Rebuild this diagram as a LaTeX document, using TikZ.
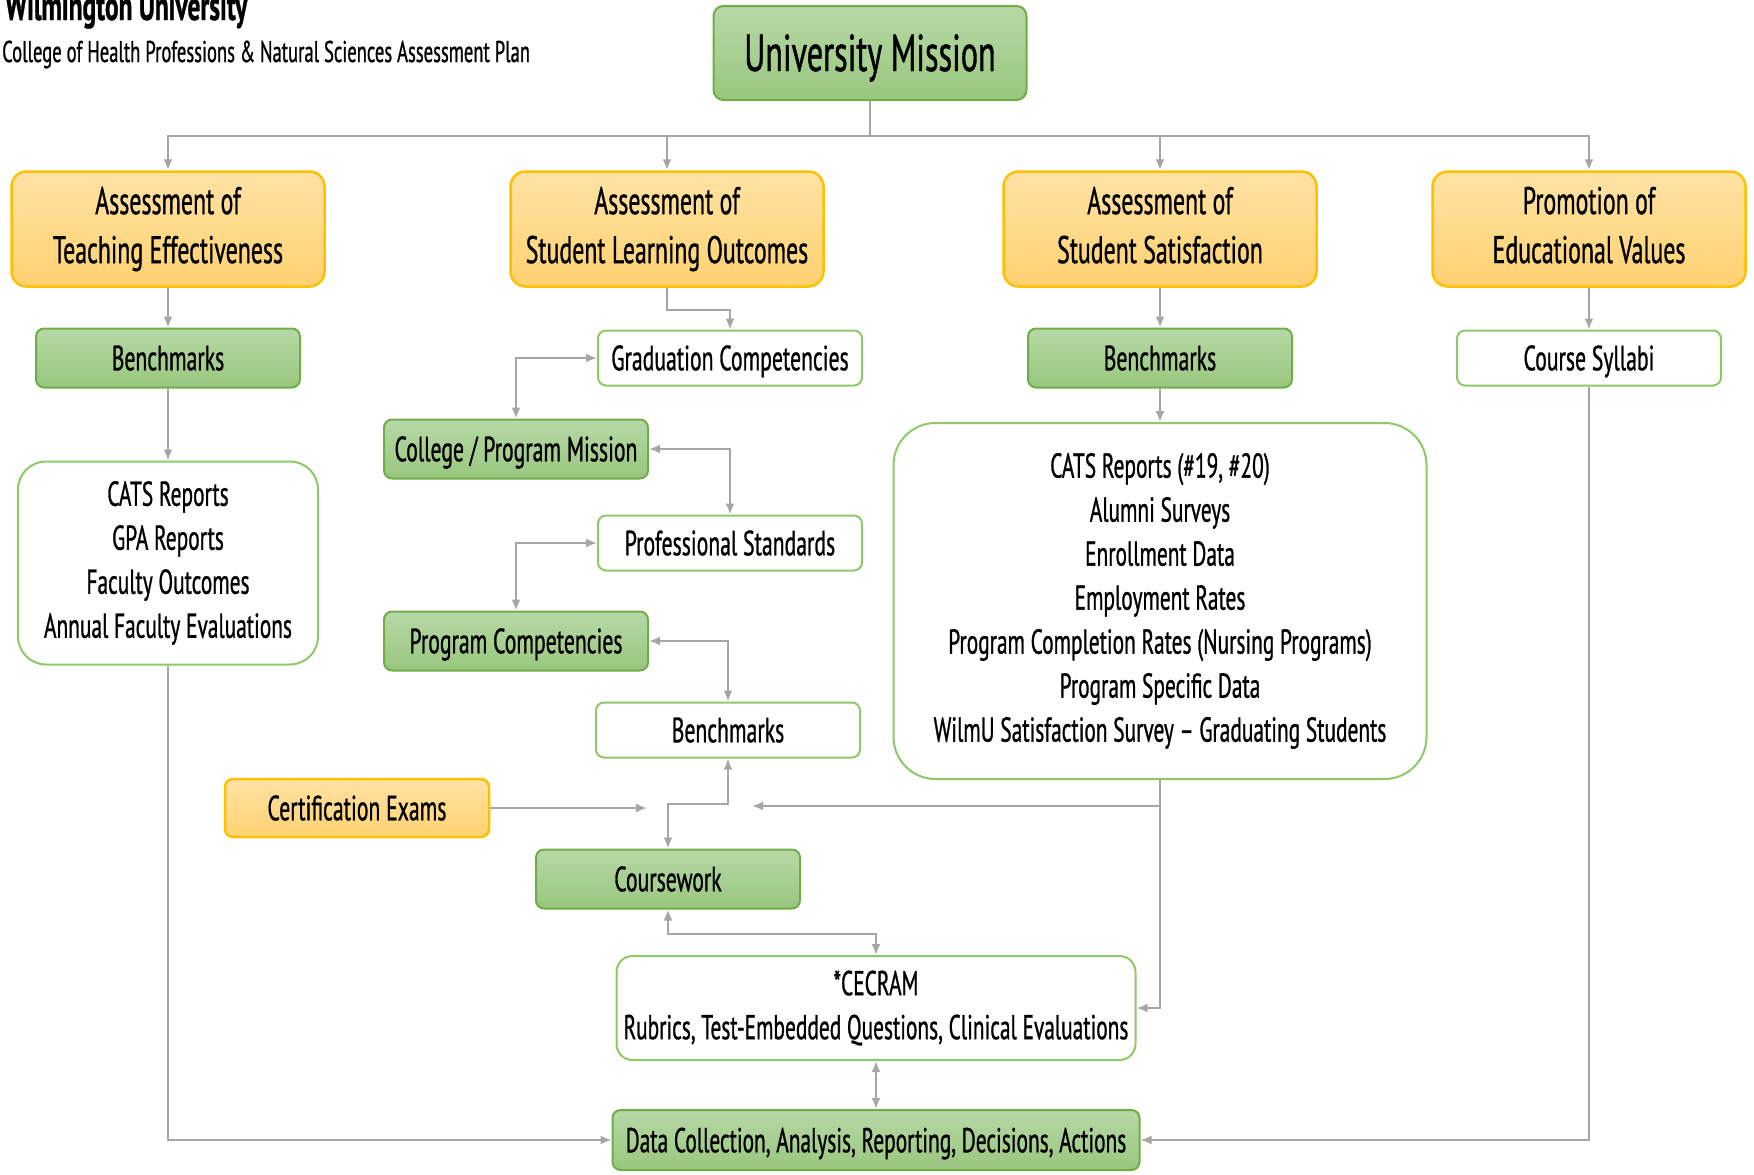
\documentclass[tikz,border=0pt]{standalone}
\usepackage{fontspec}
\setmainfont{PT Sans}[FakeStretch=0.62, FakeBold=0.8]
\usetikzlibrary{shapes.geometric, arrows.meta}
\definecolor{wilmu_yellow_top}{RGB}{255, 226, 165}
\definecolor{wilmu_yellow_bottom}{RGB}{255, 210, 112}
\definecolor{wilmu_gold}{RGB}{255, 192, 0}
\definecolor{wilmu_green_top}{RGB}{183, 216, 166}
\definecolor{wilmu_green_bottom}{RGB}{152, 199, 126}
\definecolor{wilmu_green_edge}{RGB}{112, 173, 71}
\definecolor{wilmu_light_edge}{RGB}{143, 200, 105}
\definecolor{wilmu_arrow}{RGB}{166, 166, 166}
\newcommand{\titlefont}{\fontsize{41}{48}\bfseries\selectfont}
\newcommand{\subtitlefont}{\fontsize{30}{36}\selectfont}
\newcommand{\missionfont}{\fontsize{52}{60}\selectfont}
\newcommand{\headfont}{\fontsize{38.5}{49}\selectfont}
\newcommand{\boxfont}{\fontsize{35}{44}\selectfont}
\newcommand{\listfont}{\fontsize{34.5}{44}\selectfont}
\tikzstyle{head} = [rectangle, rounded corners=15pt, minimum width=313pt, minimum height=115pt, inner sep=0pt, text centered, draw=wilmu_gold, line width=2.5pt, top color=wilmu_yellow_top, bottom color=wilmu_yellow_bottom, font=\headfont, execute at end node={\vphantom{g}}]
\tikzstyle{greenbox} = [rectangle, rounded corners=8pt, minimum width=264pt, minimum height=59pt, inner sep=0pt, text centered, text height=24.5pt, text depth=0pt, draw=wilmu_green_edge, line width=2pt, top color=wilmu_green_top, bottom color=wilmu_green_bottom, font=\boxfont]
\tikzstyle{whitebox} = [rectangle, rounded corners=8pt, minimum width=264pt, minimum height=55pt, inner sep=0pt, text centered, text height=24.5pt, text depth=0pt, draw=wilmu_light_edge, line width=2pt, fill=white, font=\boxfont]
\tikzstyle{listbox} = [rectangle, inner sep=0pt, text centered, draw=wilmu_light_edge, line width=2pt, fill=white, font=\listfont]
\tikzstyle{plain} = [line width=2pt, draw=wilmu_arrow]
\tikzstyle{arrow} = [plain, -{Latex[length=11pt, width=9pt]}]
\tikzstyle{biarrow} = [plain, {Latex[length=11pt, width=9pt]}-{Latex[length=11pt, width=9pt]}]

\begin{document}
\begin{tikzpicture}[x=1pt, y=1pt, node distance=100pt, every text node part/.style={align=center}]
        \useasboundingbox (0,0) rectangle (1754,-1175);

        \node (title) [anchor=base west, inner sep=0pt, font=\titlefont] at (5,-20) {Wilmington University};
        \node (subtitle) [anchor=base west, inner sep=0pt, font=\subtitlefont] at (2,-62) {College of Health Professions \& Natural Sciences Assessment Plan};

        \node (mission) [greenbox, minimum width=313pt, minimum height=94pt, rounded corners=10pt, text height=36pt, font=\missionfont] at (870,-53) {University Mission};

        \node (teaching) [head] at (168,-229) {Assessment of \\ Teaching Effectiveness};
        \node (learning) [head, right of=teaching, xshift=399pt] {Assessment of \\ Student Learning Outcomes};
        \node (satisfaction) [head, right of=learning, xshift=393pt] {Assessment of \\ Student Satisfaction};
        \node (promotion) [head, right of=satisfaction, xshift=329pt] {Promotion of \\ Educational Values};

        \node (teachbench) [greenbox, below of=teaching, yshift=-29pt] {Benchmarks};
        \node (catsreports) [listbox, below of=teachbench, yshift=-105pt, minimum width=300pt, minimum height=203pt, rounded corners=28pt] {CATS Reports \\ GPA Reports \\ Faculty Outcomes \\ Annual Faculty Evaluations};

        \node (gradcomp) [whitebox, below of=learning, xshift=63pt, yshift=-29pt] {Graduation Competencies};
        \node (progmission) [greenbox, below of=gradcomp, xshift=-214pt, yshift=9pt] {College / Program Mission};
        \node (profstandards) [whitebox, below of=progmission, xshift=214pt, yshift=6pt] {Professional Standards};
        \node (progcomp) [greenbox, below of=profstandards, xshift=-214pt, yshift=2pt] {Program Competencies};
        \node (progbench) [whitebox, below of=progcomp, xshift=212pt, yshift=11pt] {Benchmarks};
        \node (certexams) [head, below of=progcomp, xshift=-159pt, yshift=-67pt, minimum width=264pt, minimum height=58pt, rounded corners=8pt, text height=24.5pt, text depth=0pt, font=\boxfont] {Certification Exams};
        \coordinate [right of=certexams, xshift=190pt] (certend);
        \node (coursework) [greenbox, below of=progbench, xshift=-60pt, yshift=-49pt] {Coursework};
        \node (cecram) [listbox, below of=coursework, xshift=208pt, yshift=-29pt, minimum width=519pt, minimum height=104pt, rounded corners=16pt] {*CECRAM \\ Rubrics, Test-Embedded Questions, Clinical Evaluations};
        \node (datacollection) [greenbox, below of=cecram, yshift=-32pt, minimum width=527pt, minimum height=60pt, font=\listfont] {Data Collection, Analysis, Reporting, Decisions, Actions};

        \node (satbench) [greenbox, below of=satisfaction, yshift=-29pt] {Benchmarks};
        \node (satdata) [listbox, below of=satbench, yshift=-143pt, minimum width=533pt, minimum height=356pt, rounded corners=42pt] {CATS Reports (\#19, \#20) \\ Alumni Surveys \\ Enrollment Data \\ Employment Rates \\ Program Completion Rates (Nursing Programs) \\ Program Specific Data \\ WilmU Satisfaction Survey -- Graduating Students};
        \coordinate [left of=satdata, xshift=-308pt, yshift=-205pt] (satend);

        \node (syllabi) [whitebox, below of=promotion, yshift=-29pt] {Course Syllabi};

        % mission to the four assessments
        \draw [plain] (mission.south) -- ++(0,-35) coordinate (bus);
        \draw [arrow] (bus) -| (teaching.north);
        \draw [arrow] (bus) -| (learning.north);
        \draw [arrow] (bus) -| (satisfaction.north);
        \draw [arrow] (bus) -| (promotion.north);

        \draw [arrow] (teaching) -- (teachbench);
        \draw [arrow] (teachbench) -- (catsreports);
        \draw [arrow] (catsreports.south) |- (datacollection.west);

        \draw [arrow] (learning.south) -- ++(0,-22) -| (gradcomp.north);
        \draw [biarrow] (gradcomp.west) -| (progmission.north);
        \draw [biarrow] (progmission.east) -| (profstandards.north);
        \draw [biarrow] (profstandards.west) -| (progcomp.north);
        \draw [biarrow] (progcomp.east) -| (progbench.north);
        \draw [arrow] (certexams.east) -- (certend);
        \draw [biarrow] (progbench.south) -- ++(0,-45) -| (coursework.north);
        \draw [biarrow] (coursework.south) -- ++(0,-24) -| (cecram.north);
        \draw [biarrow] (cecram) -- (datacollection);

        \draw [arrow] (satisfaction) -- (satbench);
        \draw [arrow] (satbench) -- (satdata);
        \draw [arrow] (satdata.south) |- (satend);
        \draw [arrow] (satdata.south) |- (cecram.east);

        \draw [arrow] (promotion) -- (syllabi);
        \draw [arrow] (syllabi.south) |- (datacollection.east);
    \end{tikzpicture}
\end{document}
